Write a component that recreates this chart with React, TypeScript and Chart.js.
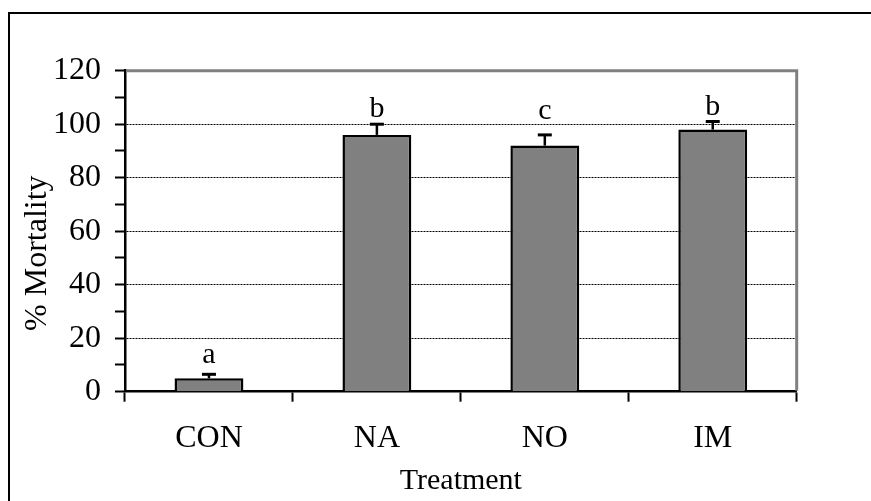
import React, { useEffect, useRef } from "react";
import { Chart, registerables } from "chart.js";

Chart.register(...registerables);

// ---- data ----
const categories = ["CON", "NA", "NO", "IM"];
const mortality = [5, 96, 92, 98];
const errorsUp = [1.5, 4, 4, 3];
const sigLetters = ["a", "b", "c", "b"];
const sigLetterAt = [10.7, 102.8, 102, 103.4];
const yMin = 0;
const yMax = 120;
const yStep = 10;
const yLabelEvery = 20;
const xTitle = "Treatment";
const yTitle = "% Mortality";

const FONT = '"Liberation Serif", "Times New Roman", Times, serif';
const FSIZE = 32;

const W = 871;
const H = 501;
const PLOT_LEFT = 125;
const PLOT_RIGHT = 796.7;
const PLOT_TOP = 70.7;
const PLOT_BOTTOM = 391.7;
const PAD_LEFT = 10;

export default function App() {
  const ref = useRef<HTMLCanvasElement>(null);

  useEffect(() => {
    if (!ref.current) return;

    const decor = {
      id: "decor",
      beforeDraw(chart: any) {
        const ctx = chart.ctx;
        ctx.save();
        ctx.fillStyle = "#fff";
        ctx.fillRect(0, 0, W, H);
        ctx.fillStyle = "#000";
        ctx.fillRect(8, 12, W - 8, 2);
        ctx.fillRect(8, 12, 2, H - 12);
        ctx.restore();
      },
      afterDatasetsDraw(chart: any) {
        const ctx = chart.ctx;
        const meta = chart.getDatasetMeta(0);
        const ys = chart.scales.y;
        ctx.save();
        meta.data.forEach((bar: any, i: number) => {
          const x = bar.x;
          const yTop = ys.getPixelForValue(mortality[i]);
          const yErr = ys.getPixelForValue(mortality[i] + errorsUp[i]);
          ctx.strokeStyle = "#000";
          ctx.lineWidth = 2.5;
          ctx.beginPath();
          ctx.moveTo(x, yTop);
          ctx.lineTo(x, yErr);
          ctx.stroke();
          ctx.lineWidth = 3;
          ctx.beginPath();
          ctx.moveTo(x - 7, yErr);
          ctx.lineTo(x + 7, yErr);
          ctx.stroke();
          ctx.fillStyle = "#000";
          ctx.font = `30px ${FONT}`;
          ctx.textAlign = "center";
          ctx.textBaseline = "alphabetic";
          ctx.fillText(sigLetters[i], x, ys.getPixelForValue(sigLetterAt[i]));
        });
        ctx.restore();
      },
      afterDraw(chart: any) {
        const ctx = chart.ctx;
        const a = chart.chartArea;
        ctx.save();
        ctx.strokeStyle = "#808080";
        ctx.lineWidth = 3;
        ctx.beginPath();
        ctx.moveTo(a.left + 1, a.top);
        ctx.lineTo(a.right, a.top);
        ctx.lineTo(a.right, a.bottom - 1);
        ctx.stroke();
        // y axis title (placed slightly below the plot centre, as in the reference)
        ctx.fillStyle = "#000";
        ctx.font = `${FSIZE}px ${FONT}`;
        ctx.textAlign = "center";
        ctx.textBaseline = "middle";
        ctx.translate(37.5, (a.top + a.bottom) / 2 + 22);
        ctx.rotate(-Math.PI / 2);
        ctx.fillText(yTitle, 0, 0);
        ctx.restore();
      },
    };

    const chart = new Chart(ref.current, {
      type: "bar",
      data: {
        labels: categories,
        datasets: [
          {
            data: mortality,
            backgroundColor: "#808080",
            borderColor: "#000",
            borderWidth: 2.5,
            categoryPercentage: 1,
            barPercentage: 0.41,
          },
        ],
      },
      options: {
        animation: false,
        responsive: false,
        devicePixelRatio: 1,
        layout: {
          padding: {
            left: PAD_LEFT,
            right: W - PLOT_RIGHT,
            top: PLOT_TOP,
            bottom: 0,
          },
        },
        plugins: {
          legend: { display: false },
          tooltip: { enabled: false },
          title: { display: false },
        },
        scales: {
          x: {
            grid: {
              display: true,
              drawOnChartArea: false,
              drawTicks: true,
              offset: true,
              tickLength: 10,
              tickColor: "#000",
              tickWidth: 2,
            },
            border: { display: true, color: "#000", width: 2.5 },
            ticks: {
              color: "#000",
              font: { family: FONT, size: FSIZE },
              padding: 18,
              maxRotation: 0,
            },
            title: {
              display: true,
              text: xTitle,
              color: "#000",
              font: { family: FONT, size: 30 },
              padding: { top: 0, bottom: 2 },
            },
            afterFit: (s: any) => {
              s.height = H - PLOT_BOTTOM;
            },
          },
          y: {
            min: yMin,
            max: yMax,
            ticks: {
              stepSize: yStep,
              autoSkip: false,
              color: "#000",
              font: { family: FONT, size: FSIZE },
              padding: 14,
              callback: (v: any) => (Number(v) % yLabelEvery === 0 ? String(v) : ""),
            },
            grid: {
              color: (c: any) => {
                const v = c.tick ? c.tick.value : 0;
                return v % yLabelEvery === 0 && v > yMin && v < yMax ? "#000" : "rgba(0,0,0,0)";
              },
              lineWidth: 1,
              tickColor: "#000",
              tickLength: 10,
              tickWidth: 2,
            },
            border: { display: true, color: "#000", width: 2.5, dash: [2, 1] },
            title: { display: false },
            afterFit: (s: any) => {
              s.width = PLOT_LEFT - PAD_LEFT;
            },
          },
        },
      },
      plugins: [decor],
    });

    return () => chart.destroy();
  }, []);

  return (
    <div style={{ position: "absolute", left: 0, top: 0, width: W, height: H, background: "#fff" }}>
      <canvas ref={ref} width={W} height={H} style={{ display: "block", width: W, height: H }} />
    </div>
  );
}
